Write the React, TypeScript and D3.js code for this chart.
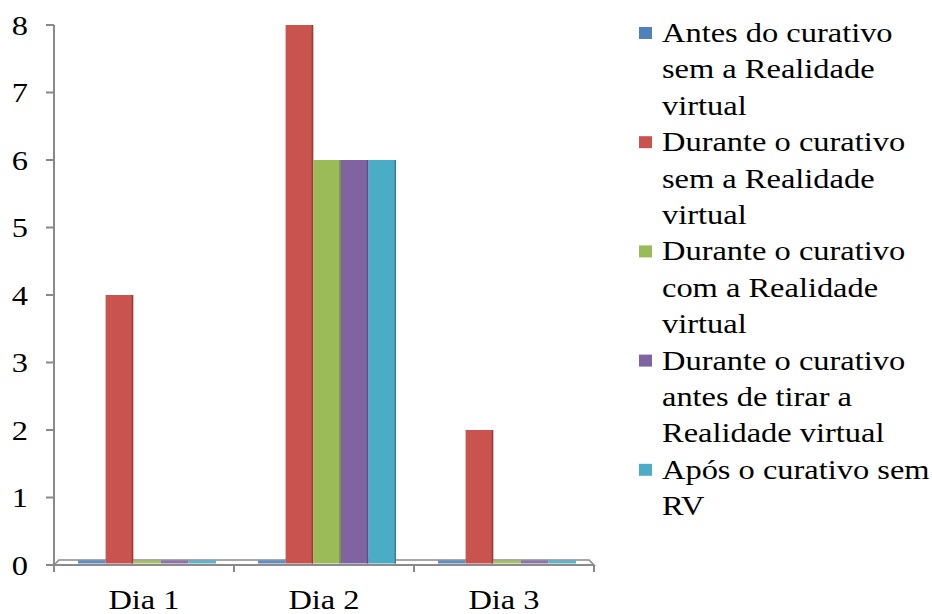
import React from "react";
import * as d3 from "d3";

// Days on the x axis
const categories = ["Dia 1", "Dia 2", "Dia 3"];

// Pain scores per moment, one array per series (index = day)
const antesSemRV = [0, 0, 0];
const duranteSemRV = [4, 8, 2];
const duranteComRV = [0, 6, 0];
const duranteAntesTirarRV = [0, 6, 0];
const aposSemRV = [0, 6, 0];

const seriesNames = [
  "Antes do curativo sem a Realidade virtual",
  "Durante o curativo sem a Realidade virtual",
  "Durante o curativo com a Realidade virtual",
  "Durante o curativo antes de tirar a Realidade virtual",
  "Após o curativo sem RV",
];

// Legend text is wrapped onto lines like this
const legendLines = [
  ["Antes do curativo", "sem a Realidade", "virtual"],
  ["Durante o curativo", "sem a Realidade", "virtual"],
  ["Durante o curativo", "com a Realidade", "virtual"],
  ["Durante o curativo", "antes de tirar a", "Realidade virtual"],
  ["Após o curativo sem", "RV"],
];

const seriesColors = ["#4F81BD", "#C9534F", "#9BBB59", "#8064A2", "#4BACC6"];

const yTicks = [0, 1, 2, 3, 4, 5, 6, 7, 8];

const seriesValues = [antesSemRV, duranteSemRV, duranteComRV, duranteAntesTirarRV, aposSemRV];

const W = 932;
const H = 614;
const left = 54;
const right = 594;
const top = 25;
const bottom = 565;

const FONT = "'Liberation Serif', 'Times New Roman', serif";
const FS = 27.5;
const SX = 1.18;
const AXIS = "#8a8a8a";

export default function App() {
  const y = d3.scaleLinear().domain([0, 8]).range([bottom, top]);
  const x0 = d3.scaleBand<string>().domain(categories).range([left, right]).padding(0);
  const groupPad = 21;
  const depth = 5;
  const x1 = d3
    .scaleBand<number>()
    .domain(d3.range(seriesNames.length))
    .range([groupPad + depth * 0.6, x0.bandwidth() - groupPad + depth * 0.6])
    .padding(0);

  const y0 = y(0);
  const lineH = 36.4;
  const legendX = 662;
  const legendBase = 42;

  let lineIdx = 0;
  const legendItems = legendLines.map((lines, i) => {
    const start = lineIdx;
    lineIdx += lines.length;
    return { lines, start, color: seriesColors[i], name: seriesNames[i] };
  });

  return (
    <svg
      width={W}
      height={H}
      style={{ position: "absolute", left: 0, top: 0, background: "#fff", fontFamily: FONT }}
    >
      {/* floor of the plot */}
      <path
        d={`M${left},${y0} L${left + depth},${y0 - depth} L${right - depth},${y0 - depth} L${right},${y0} Z`}
        fill="#fff"
        stroke={AXIS}
        strokeWidth={1.5}
      />

      {/* bars */}
      {categories.map((c, ci) =>
        seriesValues.map((vals, si) => {
          const v = vals[ci];
          const bx = (x0(c) ?? 0) + (x1(si) ?? 0);
          const bw = x1.bandwidth();
          if (v === 0) {
            return (
              <rect
                key={`${ci}-${si}`}
                x={bx}
                y={y0 - 4.5}
                width={bw}
                height={3}
                fill={seriesColors[si]}
                opacity={0.9}
              />
            );
          }
          const by = y(v);
          return (
            <g key={`${ci}-${si}`}>
              <rect x={bx} y={by} width={bw} height={y0 - 1.5 - by} fill={seriesColors[si]} />
              <rect
                x={bx + bw - 1.5}
                y={by}
                width={1.5}
                height={y0 - 1.5 - by}
                fill={d3.color(seriesColors[si])!.darker(0.8).toString()}
              />
            </g>
          );
        })
      )}

      {/* y axis */}
      <line x1={left} x2={left} y1={top} y2={bottom + 7} stroke={AXIS} strokeWidth={2} />
      {yTicks.map((t) => (
        <g key={t}>
          <line x1={left - 8} x2={left} y1={y(t)} y2={y(t)} stroke={AXIS} strokeWidth={2} />
          <text
            transform={`translate(28,${y(t) + 9.5}) scale(${SX},1)`}
            textAnchor="end"
            fontSize={FS}
            fill="#000"
          >
            {t}
          </text>
        </g>
      ))}

      {/* x axis */}
      <line x1={left} x2={right} y1={bottom} y2={bottom} stroke={AXIS} strokeWidth={2} />
      {categories.map((c) => (
        <line
          key={"tk" + c}
          x1={(x0(c) ?? 0) + x0.bandwidth()}
          x2={(x0(c) ?? 0) + x0.bandwidth()}
          y1={bottom}
          y2={bottom + 7}
          stroke={AXIS}
          strokeWidth={2}
        />
      ))}
      {categories.map((c) => (
        <text
          key={"lb" + c}
          transform={`translate(${(x0(c) ?? 0) + x0.bandwidth() / 2},${609}) scale(${SX},1)`}
          textAnchor="middle"
          fontSize={FS}
          fill="#000"
        >
          {c}
        </text>
      ))}

      {/* legend */}
      {legendItems.map((it, i) => (
        <g key={"lg" + i}>
          <rect
            x={639}
            y={legendBase + it.start * lineH - 15}
            width={13}
            height={12}
            fill={it.color}
          />
          {it.lines.map((ln, k) => (
            <text
              key={k}
              transform={`translate(${legendX},${legendBase + (it.start + k) * lineH}) scale(${SX},1)`}
              fontSize={FS}
              fill="#000"
            >
              {ln}
            </text>
          ))}
        </g>
      ))}
    </svg>
  );
}
